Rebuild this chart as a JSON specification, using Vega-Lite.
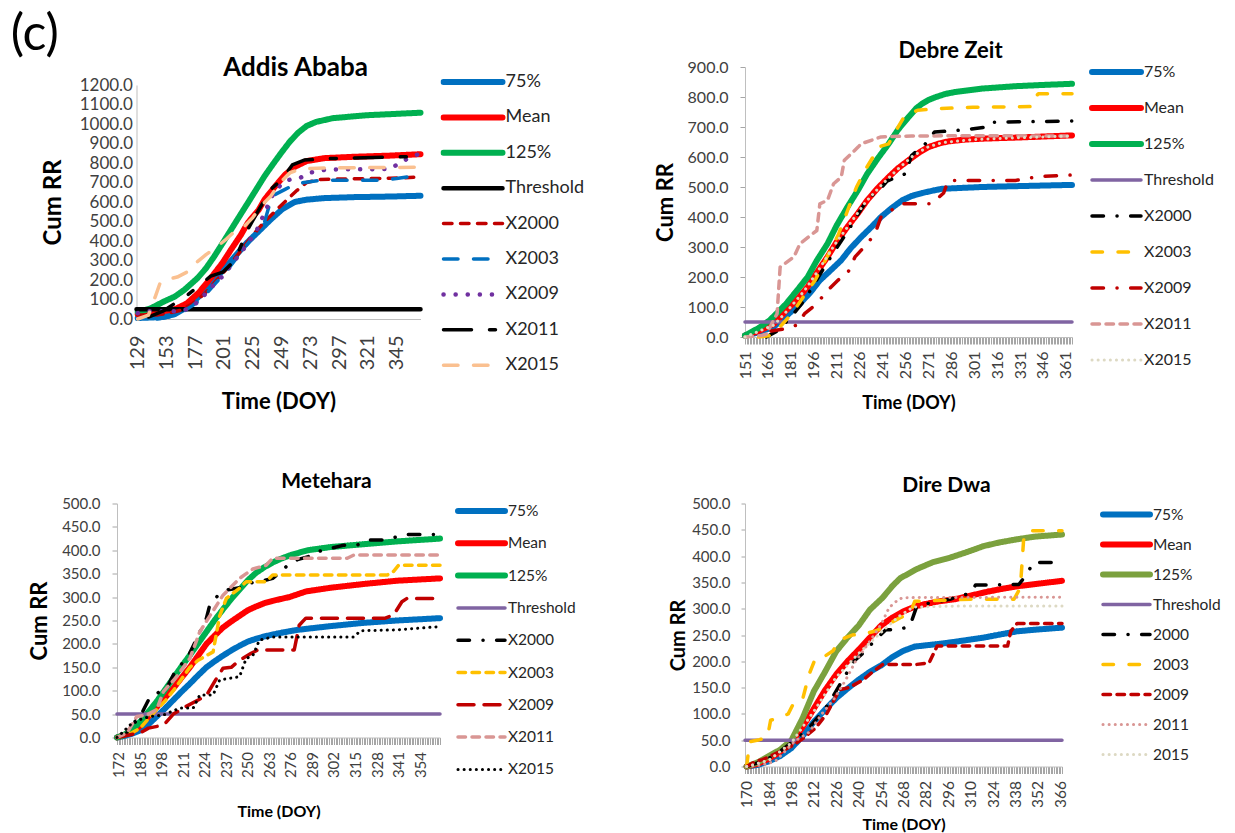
{
"$schema": "https://vega.github.io/schema/vega-lite/v6.json",
"padding": {"left": 10, "top": 10, "right": 5, "bottom": 2},
"title": {"text": "(c)", "fontSize": 50, "fontWeight": "normal", "anchor": "start", "offset": -20, "dx": -18, "font": "Lato", "color": "#000000"},
"columns": 2,
"spacing": {"row": 166.5, "column": 305},
"bounds": "flush",
"align": "each",
"center": true,
"resolve": {"scale": {"color": "independent", "strokeDash": "independent", "strokeWidth": "independent", "x": "independent", "y": "independent"}},
"config": {
  "font": "Lato",
  "view": {"stroke": null},
  "axis": {"labelColor": "#404040", "titleColor": "#000000", "domainColor": "#BFBFBF", "tickColor": "#A6A6A6", "grid": false, "labelFont": "Lato", "titleFont": "Lato", "titleFontWeight": "bold", "labelFlush": false, "labelOverlap": false, "labelBound": false},
  "legend": {"labelFont": "Lato", "labelColor": "#262626", "padding": 0, "symbolType": "stroke", "title": null},
  "title": {"font": "Lato", "fontWeight": "bold", "color": "#000000"}
},
"datasets": {
"aa": [
{"s":"75%","d":129,"v":5},{"s":"75%","d":150,"v":10},{"s":"75%","d":160,"v":25},{"s":"75%","d":170,"v":60},{"s":"75%","d":180,"v":115},{"s":"75%","d":190,"v":175},{"s":"75%","d":200,"v":250},{"s":"75%","d":210,"v":320},{"s":"75%","d":220,"v":390},{"s":"75%","d":230,"v":450},{"s":"75%","d":240,"v":510},{"s":"75%","d":250,"v":565},{"s":"75%","d":260,"v":600},{"s":"75%","d":270,"v":612},{"s":"75%","d":285,"v":620},{"s":"75%","d":310,"v":625},{"s":"75%","d":340,"v":628},{"s":"75%","d":365,"v":632},
{"s":"Mean","d":129,"v":25},{"s":"Mean","d":145,"v":35},{"s":"Mean","d":160,"v":50},{"s":"Mean","d":170,"v":80},{"s":"Mean","d":180,"v":135},{"s":"Mean","d":190,"v":210},{"s":"Mean","d":200,"v":290},{"s":"Mean","d":207,"v":357},{"s":"Mean","d":215,"v":430},{"s":"Mean","d":221,"v":494},{"s":"Mean","d":230,"v":560},{"s":"Mean","d":235,"v":614},{"s":"Mean","d":245,"v":690},{"s":"Mean","d":252,"v":740},{"s":"Mean","d":260,"v":780},{"s":"Mean","d":270,"v":810},{"s":"Mean","d":285,"v":825},{"s":"Mean","d":310,"v":832},{"s":"Mean","d":340,"v":838},{"s":"Mean","d":365,"v":845},
{"s":"125%","d":129,"v":35},{"s":"125%","d":140,"v":55},{"s":"125%","d":151,"v":90},{"s":"125%","d":160,"v":115},{"s":"125%","d":168,"v":150},{"s":"125%","d":179,"v":210},{"s":"125%","d":186,"v":260},{"s":"125%","d":193,"v":322},{"s":"125%","d":200,"v":390},{"s":"125%","d":207,"v":459},{"s":"125%","d":214,"v":528},{"s":"125%","d":221,"v":596},{"s":"125%","d":228,"v":665},{"s":"125%","d":235,"v":734},{"s":"125%","d":242,"v":795},{"s":"125%","d":249,"v":854},{"s":"125%","d":256,"v":910},{"s":"125%","d":263,"v":956},{"s":"125%","d":270,"v":990},{"s":"125%","d":278,"v":1011},{"s":"125%","d":292,"v":1030},{"s":"125%","d":320,"v":1045},{"s":"125%","d":345,"v":1052},{"s":"125%","d":365,"v":1058},
{"s":"Threshold","d":128,"v":50},{"s":"Threshold","d":365,"v":50},
{"s":"X2000","d":129,"v":20},{"s":"X2000","d":145,"v":20},{"s":"X2000","d":155,"v":30},{"s":"X2000","d":165,"v":45},{"s":"X2000","d":175,"v":80},{"s":"X2000","d":185,"v":130},{"s":"X2000","d":195,"v":200},{"s":"X2000","d":205,"v":270},{"s":"X2000","d":215,"v":350},{"s":"X2000","d":225,"v":430},{"s":"X2000","d":235,"v":500},{"s":"X2000","d":245,"v":560},{"s":"X2000","d":255,"v":620},{"s":"X2000","d":262,"v":660},{"s":"X2000","d":270,"v":700},{"s":"X2000","d":280,"v":715},{"s":"X2000","d":300,"v":718},{"s":"X2000","d":340,"v":722},{"s":"X2000","d":365,"v":728},
{"s":"X2003","d":145,"v":0},{"s":"X2003","d":155,"v":10},{"s":"X2003","d":165,"v":30},{"s":"X2003","d":175,"v":70},{"s":"X2003","d":185,"v":120},{"s":"X2003","d":195,"v":190},{"s":"X2003","d":205,"v":260},{"s":"X2003","d":215,"v":340},{"s":"X2003","d":225,"v":420},{"s":"X2003","d":235,"v":500},{"s":"X2003","d":241,"v":630},{"s":"X2003","d":252,"v":665},{"s":"X2003","d":260,"v":690},{"s":"X2003","d":268,"v":700},{"s":"X2003","d":280,"v":710},{"s":"X2003","d":300,"v":712},{"s":"X2003","d":330,"v":712},{"s":"X2003","d":345,"v":720},{"s":"X2003","d":365,"v":738},
{"s":"X2009","d":129,"v":30},{"s":"X2009","d":135,"v":40},{"s":"X2009","d":150,"v":40},{"s":"X2009","d":160,"v":40},{"s":"X2009","d":170,"v":50},{"s":"X2009","d":180,"v":90},{"s":"X2009","d":190,"v":160},{"s":"X2009","d":200,"v":220},{"s":"X2009","d":210,"v":300},{"s":"X2009","d":220,"v":380},{"s":"X2009","d":228,"v":450},{"s":"X2009","d":236,"v":560},{"s":"X2009","d":242,"v":640},{"s":"X2009","d":250,"v":700},{"s":"X2009","d":258,"v":720},{"s":"X2009","d":265,"v":725},{"s":"X2009","d":272,"v":750},{"s":"X2009","d":285,"v":765},{"s":"X2009","d":300,"v":768},{"s":"X2009","d":320,"v":768},{"s":"X2009","d":340,"v":770},{"s":"X2009","d":350,"v":810},{"s":"X2009","d":365,"v":850},
{"s":"X2011","d":138,"v":10},{"s":"X2011","d":150,"v":40},{"s":"X2011","d":160,"v":80},{"s":"X2011","d":170,"v":120},{"s":"X2011","d":180,"v":170},{"s":"X2011","d":190,"v":220},{"s":"X2011","d":200,"v":240},{"s":"X2011","d":210,"v":300},{"s":"X2011","d":221,"v":460},{"s":"X2011","d":230,"v":560},{"s":"X2011","d":241,"v":670},{"s":"X2011","d":250,"v":720},{"s":"X2011","d":258,"v":790},{"s":"X2011","d":268,"v":815},{"s":"X2011","d":285,"v":822},{"s":"X2011","d":310,"v":826},{"s":"X2011","d":340,"v":830},{"s":"X2011","d":365,"v":835},
{"s":"X2015","d":129,"v":0},{"s":"X2015","d":138,"v":20},{"s":"X2015","d":144,"v":120},{"s":"X2015","d":148,"v":190},{"s":"X2015","d":155,"v":205},{"s":"X2015","d":162,"v":215},{"s":"X2015","d":170,"v":240},{"s":"X2015","d":178,"v":290},{"s":"X2015","d":186,"v":330},{"s":"X2015","d":195,"v":370},{"s":"X2015","d":203,"v":410},{"s":"X2015","d":210,"v":450},{"s":"X2015","d":218,"v":475},{"s":"X2015","d":225,"v":520},{"s":"X2015","d":232,"v":580},{"s":"X2015","d":240,"v":630},{"s":"X2015","d":248,"v":700},{"s":"X2015","d":256,"v":750},{"s":"X2015","d":265,"v":770},{"s":"X2015","d":290,"v":775},{"s":"X2015","d":365,"v":778}
],
"dz": [
{"s":"75%","d":151,"v":5},{"s":"75%","d":160,"v":15},{"s":"75%","d":170,"v":35},{"s":"75%","d":178,"v":70},{"s":"75%","d":187,"v":111},{"s":"75%","d":194,"v":150},{"s":"75%","d":200,"v":189},{"s":"75%","d":207,"v":222},{"s":"75%","d":214,"v":256},{"s":"75%","d":220,"v":295},{"s":"75%","d":227,"v":333},{"s":"75%","d":234,"v":368},{"s":"75%","d":240,"v":400},{"s":"75%","d":247,"v":430},{"s":"75%","d":254,"v":456},{"s":"75%","d":260,"v":470},{"s":"75%","d":267,"v":480},{"s":"75%","d":274,"v":488},{"s":"75%","d":280,"v":494},{"s":"75%","d":293,"v":497},{"s":"75%","d":306,"v":500},{"s":"75%","d":330,"v":503},{"s":"75%","d":365,"v":507},
{"s":"Mean","d":151,"v":5},{"s":"Mean","d":160,"v":20},{"s":"Mean","d":170,"v":44},{"s":"Mean","d":178,"v":89},{"s":"Mean","d":185,"v":125},{"s":"Mean","d":192,"v":167},{"s":"Mean","d":198,"v":215},{"s":"Mean","d":205,"v":267},{"s":"Mean","d":211,"v":317},{"s":"Mean","d":218,"v":367},{"s":"Mean","d":225,"v":413},{"s":"Mean","d":231,"v":456},{"s":"Mean","d":238,"v":497},{"s":"Mean","d":245,"v":533},{"s":"Mean","d":251,"v":562},{"s":"Mean","d":258,"v":589},{"s":"Mean","d":265,"v":615},{"s":"Mean","d":271,"v":633},{"s":"Mean","d":278,"v":645},{"s":"Mean","d":284,"v":652},{"s":"Mean","d":295,"v":658},{"s":"Mean","d":306,"v":661},{"s":"Mean","d":330,"v":665},{"s":"Mean","d":365,"v":672},
{"s":"125%","d":151,"v":5},{"s":"125%","d":160,"v":30},{"s":"125%","d":167,"v":55},{"s":"125%","d":172,"v":80},{"s":"125%","d":178,"v":111},{"s":"125%","d":185,"v":155},{"s":"125%","d":192,"v":200},{"s":"125%","d":198,"v":255},{"s":"125%","d":205,"v":311},{"s":"125%","d":211,"v":372},{"s":"125%","d":218,"v":433},{"s":"125%","d":225,"v":490},{"s":"125%","d":231,"v":544},{"s":"125%","d":238,"v":596},{"s":"125%","d":245,"v":644},{"s":"125%","d":251,"v":690},{"s":"125%","d":258,"v":733},{"s":"125%","d":263,"v":762},{"s":"125%","d":267,"v":778},{"s":"125%","d":271,"v":790},{"s":"125%","d":276,"v":800},{"s":"125%","d":282,"v":810},{"s":"125%","d":289,"v":817},{"s":"125%","d":306,"v":828},{"s":"125%","d":328,"v":836},{"s":"125%","d":345,"v":840},{"s":"125%","d":365,"v":844},
{"s":"Threshold","d":151,"v":50},{"s":"Threshold","d":365,"v":50},
{"s":"X2000","d":165,"v":0},{"s":"X2000","d":172,"v":20},{"s":"X2000","d":180,"v":60},{"s":"X2000","d":188,"v":110},{"s":"X2000","d":195,"v":165},{"s":"X2000","d":202,"v":225},{"s":"X2000","d":210,"v":290},{"s":"X2000","d":218,"v":350},{"s":"X2000","d":225,"v":410},{"s":"X2000","d":232,"v":465},{"s":"X2000","d":238,"v":485},{"s":"X2000","d":244,"v":520},{"s":"X2000","d":256,"v":544},{"s":"X2000","d":260,"v":605},{"s":"X2000","d":269,"v":644},{"s":"X2000","d":275,"v":683},{"s":"X2000","d":293,"v":690},{"s":"X2000","d":310,"v":700},{"s":"X2000","d":313,"v":716},{"s":"X2000","d":340,"v":718},{"s":"X2000","d":365,"v":720},
{"s":"X2003","d":160,"v":0},{"s":"X2003","d":168,"v":5},{"s":"X2003","d":175,"v":40},{"s":"X2003","d":182,"v":80},{"s":"X2003","d":190,"v":140},{"s":"X2003","d":197,"v":190},{"s":"X2003","d":205,"v":270},{"s":"X2003","d":212,"v":340},{"s":"X2003","d":218,"v":420},{"s":"X2003","d":224,"v":500},{"s":"X2003","d":230,"v":560},{"s":"X2003","d":236,"v":610},{"s":"X2003","d":238,"v":633},{"s":"X2003","d":245,"v":644},{"s":"X2003","d":250,"v":690},{"s":"X2003","d":255,"v":733},{"s":"X2003","d":264,"v":756},{"s":"X2003","d":277,"v":761},{"s":"X2003","d":300,"v":766},{"s":"X2003","d":339,"v":768},{"s":"X2003","d":341,"v":800},{"s":"X2003","d":343,"v":811},{"s":"X2003","d":365,"v":811},
{"s":"X2009","d":168,"v":20},{"s":"X2009","d":178,"v":28},{"s":"X2009","d":185,"v":40},{"s":"X2009","d":190,"v":78},{"s":"X2009","d":198,"v":111},{"s":"X2009","d":205,"v":155},{"s":"X2009","d":212,"v":190},{"s":"X2009","d":218,"v":211},{"s":"X2009","d":223,"v":267},{"s":"X2009","d":231,"v":311},{"s":"X2009","d":236,"v":344},{"s":"X2009","d":240,"v":400},{"s":"X2009","d":246,"v":420},{"s":"X2009","d":253,"v":444},{"s":"X2009","d":273,"v":444},{"s":"X2009","d":281,"v":480},{"s":"X2009","d":284,"v":522},{"s":"X2009","d":328,"v":522},{"s":"X2009","d":344,"v":535},{"s":"X2009","d":365,"v":540},
{"s":"X2011","d":151,"v":0},{"s":"X2011","d":162,"v":5},{"s":"X2011","d":165,"v":10},{"s":"X2011","d":172,"v":78},{"s":"X2011","d":174,"v":233},{"s":"X2011","d":183,"v":267},{"s":"X2011","d":187,"v":311},{"s":"X2011","d":198,"v":355},{"s":"X2011","d":200,"v":444},{"s":"X2011","d":205,"v":456},{"s":"X2011","d":209,"v":511},{"s":"X2011","d":214,"v":533},{"s":"X2011","d":216,"v":589},{"s":"X2011","d":225,"v":633},{"s":"X2011","d":227,"v":644},{"s":"X2011","d":240,"v":667},{"s":"X2011","d":260,"v":670},{"s":"X2011","d":300,"v":671},{"s":"X2011","d":365,"v":670},
{"s":"X2015","d":151,"v":0},{"s":"X2015","d":170,"v":40},{"s":"X2015","d":180,"v":95},{"s":"X2015","d":190,"v":155},{"s":"X2015","d":200,"v":230},{"s":"X2015","d":210,"v":310},{"s":"X2015","d":220,"v":380},{"s":"X2015","d":230,"v":450},{"s":"X2015","d":240,"v":505},{"s":"X2015","d":250,"v":555},{"s":"X2015","d":260,"v":600},{"s":"X2015","d":270,"v":632},{"s":"X2015","d":280,"v":648},{"s":"X2015","d":300,"v":658},{"s":"X2015","d":330,"v":664},{"s":"X2015","d":365,"v":670}
],
"mt": [
{"s":"75%","d":171,"v":0},{"s":"75%","d":175,"v":3},{"s":"75%","d":180,"v":8},{"s":"75%","d":185,"v":15},{"s":"75%","d":190,"v":28},{"s":"75%","d":195,"v":45},{"s":"75%","d":200,"v":62},{"s":"75%","d":205,"v":80},{"s":"75%","d":210,"v":98},{"s":"75%","d":215,"v":115},{"s":"75%","d":220,"v":133},{"s":"75%","d":225,"v":150},{"s":"75%","d":230,"v":163},{"s":"75%","d":235,"v":175},{"s":"75%","d":240,"v":186},{"s":"75%","d":245,"v":196},{"s":"75%","d":250,"v":205},{"s":"75%","d":255,"v":211},{"s":"75%","d":260,"v":216},{"s":"75%","d":265,"v":220},{"s":"75%","d":272,"v":225},{"s":"75%","d":280,"v":230},{"s":"75%","d":290,"v":234},{"s":"75%","d":300,"v":238},{"s":"75%","d":320,"v":245},{"s":"75%","d":340,"v":250},{"s":"75%","d":366,"v":255},
{"s":"Mean","d":171,"v":0},{"s":"Mean","d":175,"v":5},{"s":"Mean","d":180,"v":12},{"s":"Mean","d":185,"v":25},{"s":"Mean","d":190,"v":45},{"s":"Mean","d":195,"v":65},{"s":"Mean","d":200,"v":85},{"s":"Mean","d":205,"v":105},{"s":"Mean","d":210,"v":128},{"s":"Mean","d":215,"v":150},{"s":"Mean","d":220,"v":175},{"s":"Mean","d":225,"v":200},{"s":"Mean","d":230,"v":218},{"s":"Mean","d":235,"v":235},{"s":"Mean","d":240,"v":248},{"s":"Mean","d":245,"v":260},{"s":"Mean","d":250,"v":272},{"s":"Mean","d":255,"v":280},{"s":"Mean","d":260,"v":287},{"s":"Mean","d":265,"v":292},{"s":"Mean","d":270,"v":296},{"s":"Mean","d":275,"v":300},{"s":"Mean","d":285,"v":312},{"s":"Mean","d":300,"v":320},{"s":"Mean","d":320,"v":328},{"s":"Mean","d":340,"v":335},{"s":"Mean","d":366,"v":340},
{"s":"125%","d":171,"v":0},{"s":"125%","d":175,"v":5},{"s":"125%","d":180,"v":15},{"s":"125%","d":185,"v":34},{"s":"125%","d":190,"v":55},{"s":"125%","d":195,"v":77},{"s":"125%","d":200,"v":102},{"s":"125%","d":205,"v":127},{"s":"125%","d":210,"v":152},{"s":"125%","d":215,"v":176},{"s":"125%","d":220,"v":201},{"s":"125%","d":225,"v":226},{"s":"125%","d":230,"v":251},{"s":"125%","d":235,"v":274},{"s":"125%","d":240,"v":296},{"s":"125%","d":245,"v":316},{"s":"125%","d":250,"v":336},{"s":"125%","d":255,"v":352},{"s":"125%","d":260,"v":364},{"s":"125%","d":265,"v":374},{"s":"125%","d":270,"v":382},{"s":"125%","d":276,"v":390},{"s":"125%","d":286,"v":400},{"s":"125%","d":300,"v":407},{"s":"125%","d":320,"v":413},{"s":"125%","d":340,"v":419},{"s":"125%","d":366,"v":425},
{"s":"Threshold","d":171,"v":50},{"s":"Threshold","d":366,"v":50},
{"s":"X2000","d":171,"v":0},{"s":"X2000","d":176,"v":5},{"s":"X2000","d":180,"v":25},{"s":"X2000","d":185,"v":45},{"s":"X2000","d":191,"v":87},{"s":"X2000","d":201,"v":105},{"s":"X2000","d":207,"v":148},{"s":"X2000","d":213,"v":166},{"s":"X2000","d":223,"v":240},{"s":"X2000","d":225,"v":255},{"s":"X2000","d":227,"v":283},{"s":"X2000","d":233,"v":308},{"s":"X2000","d":237,"v":315},{"s":"X2000","d":245,"v":320},{"s":"X2000","d":251,"v":330},{"s":"X2000","d":257,"v":333},{"s":"X2000","d":265,"v":340},{"s":"X2000","d":270,"v":354},{"s":"X2000","d":274,"v":368},{"s":"X2000","d":280,"v":380},{"s":"X2000","d":290,"v":390},{"s":"X2000","d":292,"v":397},{"s":"X2000","d":300,"v":404},{"s":"X2000","d":308,"v":411},{"s":"X2000","d":316,"v":411},{"s":"X2000","d":322,"v":422},{"s":"X2000","d":332,"v":422},{"s":"X2000","d":346,"v":434},{"s":"X2000","d":366,"v":434},
{"s":"X2003","d":171,"v":0},{"s":"X2003","d":180,"v":10},{"s":"X2003","d":185,"v":20},{"s":"X2003","d":190,"v":40},{"s":"X2003","d":195,"v":60},{"s":"X2003","d":200,"v":78},{"s":"X2003","d":205,"v":100},{"s":"X2003","d":210,"v":125},{"s":"X2003","d":215,"v":150},{"s":"X2003","d":220,"v":165},{"s":"X2003","d":229,"v":183},{"s":"X2003","d":233,"v":260},{"s":"X2003","d":237,"v":297},{"s":"X2003","d":245,"v":319},{"s":"X2003","d":249,"v":333},{"s":"X2003","d":261,"v":333},{"s":"X2003","d":265,"v":347},{"s":"X2003","d":334,"v":347},{"s":"X2003","d":338,"v":355},{"s":"X2003","d":341,"v":368},{"s":"X2003","d":366,"v":368},
{"s":"X2009","d":171,"v":0},{"s":"X2009","d":185,"v":10},{"s":"X2009","d":190,"v":20},{"s":"X2009","d":197,"v":25},{"s":"X2009","d":200,"v":30},{"s":"X2009","d":205,"v":50},{"s":"X2009","d":212,"v":65},{"s":"X2009","d":220,"v":80},{"s":"X2009","d":225,"v":90},{"s":"X2009","d":230,"v":120},{"s":"X2009","d":235,"v":148},{"s":"X2009","d":240,"v":150},{"s":"X2009","d":245,"v":165},{"s":"X2009","d":252,"v":180},{"s":"X2009","d":256,"v":187},{"s":"X2009","d":278,"v":187},{"s":"X2009","d":281,"v":240},{"s":"X2009","d":285,"v":255},{"s":"X2009","d":333,"v":255},{"s":"X2009","d":338,"v":262},{"s":"X2009","d":343,"v":290},{"s":"X2009","d":346,"v":297},{"s":"X2009","d":366,"v":297},
{"s":"X2011","d":171,"v":0},{"s":"X2011","d":177,"v":10},{"s":"X2011","d":183,"v":45},{"s":"X2011","d":189,"v":48},{"s":"X2011","d":195,"v":60},{"s":"X2011","d":199,"v":98},{"s":"X2011","d":207,"v":130},{"s":"X2011","d":215,"v":169},{"s":"X2011","d":221,"v":226},{"s":"X2011","d":228,"v":265},{"s":"X2011","d":235,"v":304},{"s":"X2011","d":245,"v":340},{"s":"X2011","d":253,"v":360},{"s":"X2011","d":261,"v":368},{"s":"X2011","d":265,"v":383},{"s":"X2011","d":310,"v":383},{"s":"X2011","d":314,"v":390},{"s":"X2011","d":366,"v":390},
{"s":"X2015","d":171,"v":0},{"s":"X2015","d":175,"v":13},{"s":"X2015","d":181,"v":34},{"s":"X2015","d":191,"v":45},{"s":"X2015","d":199,"v":48},{"s":"X2015","d":209,"v":63},{"s":"X2015","d":217,"v":63},{"s":"X2015","d":221,"v":91},{"s":"X2015","d":229,"v":91},{"s":"X2015","d":233,"v":123},{"s":"X2015","d":245,"v":130},{"s":"X2015","d":249,"v":169},{"s":"X2015","d":253,"v":175},{"s":"X2015","d":257,"v":208},{"s":"X2015","d":265,"v":215},{"s":"X2015","d":314,"v":215},{"s":"X2015","d":318,"v":228},{"s":"X2015","d":340,"v":230},{"s":"X2015","d":366,"v":237}
],
"dd": [
{"s":"75%","d":170,"v":0},{"s":"75%","d":177,"v":3},{"s":"75%","d":184,"v":10},{"s":"75%","d":191,"v":20},{"s":"75%","d":198,"v":35},{"s":"75%","d":205,"v":58},{"s":"75%","d":212,"v":85},{"s":"75%","d":219,"v":108},{"s":"75%","d":226,"v":130},{"s":"75%","d":233,"v":148},{"s":"75%","d":240,"v":165},{"s":"75%","d":247,"v":180},{"s":"75%","d":254,"v":192},{"s":"75%","d":261,"v":208},{"s":"75%","d":268,"v":220},{"s":"75%","d":275,"v":228},{"s":"75%","d":290,"v":233},{"s":"75%","d":300,"v":237},{"s":"75%","d":318,"v":245},{"s":"75%","d":339,"v":257},{"s":"75%","d":350,"v":260},{"s":"75%","d":367,"v":264},
{"s":"Mean","d":170,"v":0},{"s":"Mean","d":177,"v":5},{"s":"Mean","d":184,"v":15},{"s":"Mean","d":191,"v":28},{"s":"Mean","d":198,"v":45},{"s":"Mean","d":205,"v":75},{"s":"Mean","d":212,"v":110},{"s":"Mean","d":219,"v":145},{"s":"Mean","d":226,"v":175},{"s":"Mean","d":233,"v":200},{"s":"Mean","d":240,"v":222},{"s":"Mean","d":247,"v":245},{"s":"Mean","d":254,"v":268},{"s":"Mean","d":261,"v":283},{"s":"Mean","d":268,"v":295},{"s":"Mean","d":276,"v":305},{"s":"Mean","d":290,"v":314},{"s":"Mean","d":300,"v":318},{"s":"Mean","d":310,"v":325},{"s":"Mean","d":320,"v":332},{"s":"Mean","d":330,"v":338},{"s":"Mean","d":340,"v":343},{"s":"Mean","d":367,"v":353},
{"s":"125%","d":170,"v":0},{"s":"125%","d":177,"v":8},{"s":"125%","d":184,"v":20},{"s":"125%","d":191,"v":32},{"s":"125%","d":198,"v":50},{"s":"125%","d":205,"v":92},{"s":"125%","d":212,"v":143},{"s":"125%","d":219,"v":180},{"s":"125%","d":226,"v":219},{"s":"125%","d":233,"v":245},{"s":"125%","d":240,"v":268},{"s":"125%","d":247,"v":298},{"s":"125%","d":255,"v":321},{"s":"125%","d":261,"v":343},{"s":"125%","d":266,"v":358},{"s":"125%","d":276,"v":375},{"s":"125%","d":286,"v":388},{"s":"125%","d":297,"v":397},{"s":"125%","d":307,"v":407},{"s":"125%","d":318,"v":419},{"s":"125%","d":328,"v":426},{"s":"125%","d":339,"v":432},{"s":"125%","d":350,"v":437},{"s":"125%","d":367,"v":441},
{"s":"Threshold","d":169,"v":50},{"s":"Threshold","d":367,"v":50},
{"s":"2000","d":170,"v":0},{"s":"2000","d":180,"v":10},{"s":"2000","d":188,"v":22},{"s":"2000","d":198,"v":45},{"s":"2000","d":208,"v":70},{"s":"2000","d":215,"v":95},{"s":"2000","d":221,"v":118},{"s":"2000","d":231,"v":170},{"s":"2000","d":237,"v":200},{"s":"2000","d":245,"v":222},{"s":"2000","d":250,"v":240},{"s":"2000","d":257,"v":260},{"s":"2000","d":265,"v":260},{"s":"2000","d":272,"v":267},{"s":"2000","d":276,"v":302},{"s":"2000","d":280,"v":308},{"s":"2000","d":297,"v":318},{"s":"2000","d":310,"v":330},{"s":"2000","d":313,"v":345},{"s":"2000","d":340,"v":346},{"s":"2000","d":345,"v":365},{"s":"2000","d":349,"v":388},{"s":"2000","d":367,"v":388},
{"s":"2003","d":170,"v":0},{"s":"2003","d":172,"v":47},{"s":"2003","d":178,"v":51},{"s":"2003","d":183,"v":55},{"s":"2003","d":185,"v":88},{"s":"2003","d":190,"v":92},{"s":"2003","d":196,"v":100},{"s":"2003","d":200,"v":124},{"s":"2003","d":205,"v":128},{"s":"2003","d":209,"v":175},{"s":"2003","d":213,"v":206},{"s":"2003","d":219,"v":210},{"s":"2003","d":224,"v":220},{"s":"2003","d":228,"v":240},{"s":"2003","d":236,"v":250},{"s":"2003","d":243,"v":252},{"s":"2003","d":251,"v":258},{"s":"2003","d":257,"v":268},{"s":"2003","d":266,"v":283},{"s":"2003","d":272,"v":290},{"s":"2003","d":275,"v":314},{"s":"2003","d":310,"v":318},{"s":"2003","d":337,"v":318},{"s":"2003","d":341,"v":340},{"s":"2003","d":343,"v":430},{"s":"2003","d":345,"v":448},{"s":"2003","d":367,"v":448},
{"s":"2009","d":170,"v":0},{"s":"2009","d":176,"v":10},{"s":"2009","d":180,"v":13},{"s":"2009","d":192,"v":30},{"s":"2009","d":199,"v":40},{"s":"2009","d":206,"v":55},{"s":"2009","d":213,"v":73},{"s":"2009","d":220,"v":100},{"s":"2009","d":228,"v":146},{"s":"2009","d":234,"v":150},{"s":"2009","d":243,"v":165},{"s":"2009","d":248,"v":178},{"s":"2009","d":255,"v":194},{"s":"2009","d":276,"v":194},{"s":"2009","d":284,"v":197},{"s":"2009","d":289,"v":229},{"s":"2009","d":333,"v":229},{"s":"2009","d":335,"v":257},{"s":"2009","d":339,"v":272},{"s":"2009","d":367,"v":272},
{"s":"2011","d":170,"v":0},{"s":"2011","d":180,"v":3},{"s":"2011","d":188,"v":10},{"s":"2011","d":200,"v":48},{"s":"2011","d":209,"v":65},{"s":"2011","d":217,"v":100},{"s":"2011","d":225,"v":130},{"s":"2011","d":232,"v":165},{"s":"2011","d":238,"v":200},{"s":"2011","d":247,"v":238},{"s":"2011","d":254,"v":270},{"s":"2011","d":259,"v":302},{"s":"2011","d":265,"v":318},{"s":"2011","d":268,"v":321},{"s":"2011","d":367,"v":322},
{"s":"2015","d":170,"v":0},{"s":"2015","d":184,"v":12},{"s":"2015","d":198,"v":45},{"s":"2015","d":212,"v":105},{"s":"2015","d":226,"v":170},{"s":"2015","d":240,"v":215},{"s":"2015","d":254,"v":255},{"s":"2015","d":265,"v":285},{"s":"2015","d":274,"v":303},{"s":"2015","d":300,"v":305},{"s":"2015","d":367,"v":305}
]
},
"concat": [
{
  "width": 284, "height": 234,
  "data": {"name": "aa"},
  "title": {"text": "Addis Ababa", "fontSize": 26, "dx": 17, "offset": -8},
  "mark": {"type": "line", "strokeCap": "round", "strokeJoin": "round"},
  "encoding": {
    "x": {"field": "d", "type": "quantitative", "scale": {"domain": [128, 365], "nice": false, "zero": false},
      "axis": {"title": "Time (DOY)", "values": [129,153,177,201,225,249,273,297,321,345], "labelAngle": -90, "labelFontSize": 20, "titleFontSize": 22, "ticks": false, "labelPadding": 16, "titlePadding": 22}},
    "y": {"field": "v", "type": "quantitative", "scale": {"domain": [0, 1200], "nice": false},
      "axis": {"title": "Cum RR", "values": [0,100,200,300,400,500,600,700,800,900,1000,1100,1200], "format": ".1f", "labelFontSize": 17, "titleFontSize": 24, "ticks": false, "labelPadding": 4, "titlePadding": 14}},
    "color": {"field": "s", "type": "nominal",
      "scale": {"domain": ["75%","Mean","125%","Threshold","X2000","X2003","X2009","X2011","X2015"], "range": ["#0070C0","#FF0000","#00B050","#000000","#C00000","#0070C0","#7030A0","#000000","#FAC090"]},
      "legend": {"orient": "none", "legendX": 304, "legendY": -12, "labelFontSize": 18, "symbolSize": 3481, "clipHeight": 18, "rowPadding": 17.4, "labelOffset": 0, "encode": {"symbols": {"update": {"strokeCap": {"value": "round"}}}}}},
    "strokeDash": {"field": "s", "type": "nominal",
      "scale": {"domain": ["75%","Mean","125%","Threshold","X2000","X2003","X2009","X2011","X2015"], "range": [[1,0],[1,0],[1,0],[1,0],[8.5,8.5],[14.5,15.5],[0.1,12],[28,18,6,18],[14.5,15.5]]}},
    "strokeWidth": {"field": "s", "type": "nominal",
      "scale": {"type": "ordinal", "domain": ["75%","Mean","125%","Threshold","X2000","X2003","X2009","X2011","X2015"], "range": [6,6,6,4.5,3.5,3.5,4.5,3.5,3.5]}}
  }
},
{
  "width": 327, "height": 270,
  "data": {"name": "dz"},
  "title": {"text": "Debre Zeit", "fontSize": 22, "dx": 42, "offset": -4},
  "mark": {"type": "line", "strokeCap": "round", "strokeJoin": "round"},
  "encoding": {
    "x": {"field": "d", "type": "quantitative", "scale": {"domain": [151, 365], "nice": false, "zero": false},
      "axis": {"title": "Time (DOY)", "tickCount": 215, "labelExpr": "(datum.value - 151) % 15 == 0 ? datum.label : ''", "labelAngle": -90, "labelFontSize": 16, "titleFontSize": 18, "tickSize": 7, "labelPadding": 7, "titlePadding": 16}},
    "y": {"field": "v", "type": "quantitative", "scale": {"domain": [0, 900], "nice": false},
      "axis": {"title": "Cum RR", "values": [0,100,200,300,400,500,600,700,800,900], "format": ".1f", "labelFontSize": 16, "titleFontSize": 22, "tickSize": 5, "labelPadding": 12, "titlePadding": 10}},
    "color": {"field": "s", "type": "nominal",
      "scale": {"domain": ["75%","Mean","125%","Threshold","X2000","X2003","X2009","X2011","X2015"], "range": ["#0070C0","#FF0000","#00B050","#8064A2","#000000","#FFC000","#C00000","#D99694","#DDD9C3"]},
      "legend": {"orient": "none", "legendX": 344, "legendY": -3, "labelFontSize": 16, "symbolSize": 2401, "clipHeight": 16, "rowPadding": 20, "labelOffset": 0, "encode": {"symbols": {"update": {"strokeCap": {"value": "round"}}}}}},
    "strokeDash": {"field": "s", "type": "nominal",
      "scale": {"domain": ["75%","Mean","125%","Threshold","X2000","X2003","X2009","X2011","X2015"], "range": [[1,0],[1,0],[1,0],[1,0],[11.5,13.5,0.1,13.5],[10.5,15.5],[11.5,13.5,0.1,13.5],[7.5,6.5],[0.1,6]]}},
    "strokeWidth": {"field": "s", "type": "nominal",
      "scale": {"type": "ordinal", "domain": ["75%","Mean","125%","Threshold","X2000","X2003","X2009","X2011","X2015"], "range": [6,6,6,3.5,3.5,3.5,3.5,3.5,3]}}
  }
},
{
  "width": 323, "height": 234,
  "data": {"name": "mt"},
  "title": {"text": "Metehara", "fontSize": 21, "dx": 48, "offset": 4.5},
  "mark": {"type": "line", "strokeCap": "round", "strokeJoin": "round"},
  "encoding": {
    "x": {"field": "d", "type": "quantitative", "scale": {"domain": [171, 366], "nice": false, "zero": false},
      "axis": {"title": "Time (DOY)", "tickCount": 196, "labelExpr": "(datum.value - 172) % 13 == 0 ? datum.label : ''", "labelAngle": -90, "labelFontSize": 15, "titleFontSize": 16, "tickSize": 7, "labelPadding": 7, "titlePadding": 26}},
    "y": {"field": "v", "type": "quantitative", "scale": {"domain": [0, 500], "nice": false},
      "axis": {"title": "Cum RR", "values": [0,50,100,150,200,250,300,350,400,450,500], "format": ".1f", "labelFontSize": 15, "titleFontSize": 22, "tickSize": 5, "labelPadding": 12, "titlePadding": 10}},
    "color": {"field": "s", "type": "nominal",
      "scale": {"domain": ["75%","Mean","125%","Threshold","X2000","X2003","X2009","X2011","X2015"], "range": ["#0070C0","#FF0000","#00B050","#8064A2","#000000","#FFC000","#C00000","#D99694","#000000"]},
      "legend": {"orient": "none", "legendX": 338, "legendY": -0.5, "labelFontSize": 15.5, "symbolSize": 2209, "clipHeight": 16, "rowPadding": 15.3, "labelOffset": 0, "encode": {"symbols": {"update": {"strokeCap": {"value": "round"}}}}}},
    "strokeDash": {"field": "s", "type": "nominal",
      "scale": {"domain": ["75%","Mean","125%","Threshold","X2000","X2003","X2009","X2011","X2015"], "range": [[1,0],[1,0],[1,0],[1,0],[11.5,13.5,0.1,13.5],[7.5,6.5],[16,10],[7.5,6.5],[0.1,6]]}},
    "strokeWidth": {"field": "s", "type": "nominal",
      "scale": {"type": "ordinal", "domain": ["75%","Mean","125%","Threshold","X2000","X2003","X2009","X2011","X2015"], "range": [6,6,6,3.5,3.5,3.5,3.5,3.5,3]}}
  }
},
{
  "width": 317, "height": 263,
  "data": {"name": "dd"},
  "title": {"text": "Dire Dwa", "fontSize": 21, "dx": 43, "offset": 0.5},
  "mark": {"type": "line", "strokeCap": "round", "strokeJoin": "round"},
  "encoding": {
    "x": {"field": "d", "type": "quantitative", "scale": {"domain": [169, 367], "nice": false, "zero": false},
      "axis": {"title": "Time (DOY)", "tickCount": 199, "labelExpr": "(datum.value - 170) % 14 == 0 ? datum.label : ''", "labelAngle": -90, "labelFontSize": 15.5, "titleFontSize": 16, "tickSize": 7, "labelPadding": 7, "titlePadding": 9}},
    "y": {"field": "v", "type": "quantitative", "scale": {"domain": [0, 500], "nice": false},
      "axis": {"title": "Cum RR", "values": [0,50,100,150,200,250,300,350,400,450,500], "format": ".1f", "labelFontSize": 15, "titleFontSize": 20, "tickSize": 4, "labelPadding": 11, "titlePadding": 3}},
    "color": {"field": "s", "type": "nominal",
      "scale": {"domain": ["75%","Mean","125%","Threshold","2000","2003","2009","2011","2015"], "range": ["#0070C0","#FF0000","#7BA13E","#8064A2","#000000","#FFC000","#C00000","#D99694","#DDD9C3"]},
      "legend": {"orient": "none", "legendX": 355, "legendY": 3, "labelFontSize": 15.5, "symbolSize": 2209, "clipHeight": 16, "rowPadding": 13, "labelOffset": 0, "encode": {"symbols": {"update": {"strokeCap": {"value": "round"}}}}}},
    "strokeDash": {"field": "s", "type": "nominal",
      "scale": {"domain": ["75%","Mean","125%","Threshold","2000","2003","2009","2011","2015"], "range": [[1,0],[1,0],[1,0],[1,0],[11.5,13.5,0.1,13.5],[10.5,15.5],[7.5,6.5],[0.1,6],[0.1,6]]}},
    "strokeWidth": {"field": "s", "type": "nominal",
      "scale": {"type": "ordinal", "domain": ["75%","Mean","125%","Threshold","2000","2003","2009","2011","2015"], "range": [6,6,6,3.5,3.5,3.5,3.5,3,3]}}
  }
}
]
}
